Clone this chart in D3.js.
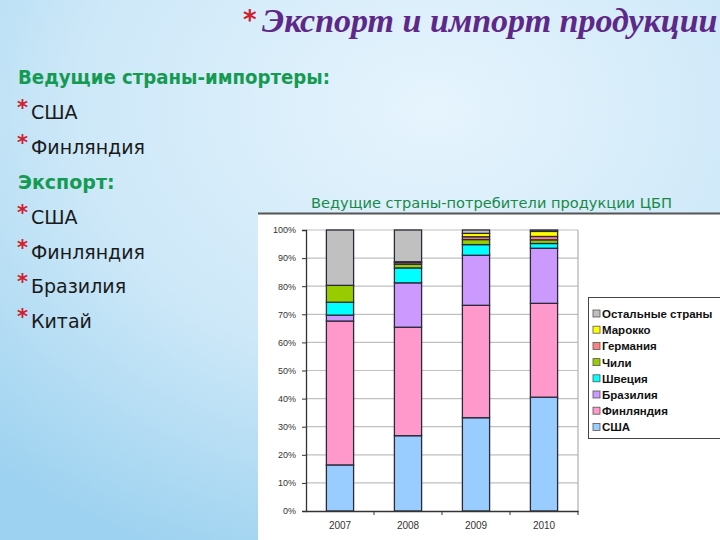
<!DOCTYPE html>
<html>
<head>
<meta charset="utf-8">
<script src="https://cdn.jsdelivr.net/npm/d3@7"></script>
<style>
  html, body { margin: 0; padding: 0; }
  body { width: 720px; height: 540px; overflow: hidden; }
</style>
</head>
<body>
<div id="slide"></div>
<script>
// categories and series (percent share of each year)
let years = ["2007", "2008", "2009", "2010"];
let countries = ["США", "Финляндия", "Бразилия", "Швеция", "Чили", "Германия", "Марокко", "Остальные страны"];
let usa     = [16.4, 26.8, 33.2, 40.5];
let finland = [51.2, 38.6, 40.0, 33.4];
let brazil  = [2.1, 15.8, 17.8, 19.6];
let sweden  = [4.6, 5.3, 3.8, 1.7];
let chile   = [6.0, 1.3, 1.8, 1.3];
let germany = [0, 0.6, 1.0, 1.2];
let morocco = [0, 0.3, 1.2, 1.8];
let others  = [19.7, 11.3, 1.2, 0.5];
let yTicks = [0, 10, 20, 30, 40, 50, 60, 70, 80, 90, 100];

let leftHeading1 = "Ведущие страны-импортеры:";
let importers = ["США", "Финляндия"];
let leftHeading2 = "Экспорт:";
let exporters = ["США", "Финляндия", "Бразилия", "Китай"];

let colors = ["#99ccff", "#ff99cc", "#cc99ff", "#00ffff", "#99cc00", "#ff8080", "#ffff00", "#c0c0c0"];

let series = [usa, finland, brazil, sweden, chile, germany, morocco, others];
let rows = years.map((y, i) => {
  let r = { year: y };
  countries.forEach((c, j) => { r[c] = series[j][i]; });
  return r;
});

let svg = d3.select("#slide").append("svg")
  .attr("width", 720).attr("height", 540);

// slide background
let defs = svg.append("defs");
let grad = defs.append("radialGradient").attr("id", "bg")
  .attr("cx", "0.6").attr("cy", "0.2").attr("r", "0.9");
grad.append("stop").attr("offset", "0%").attr("stop-color", "#e6f4fd");
grad.append("stop").attr("offset", "55%").attr("stop-color", "#cde8f8");
grad.append("stop").attr("offset", "100%").attr("stop-color", "#9dd2f0");
svg.append("rect").attr("width", 720).attr("height", 540).attr("fill", "url(#bg)");

// slide title
svg.append("text").attr("x", 243).attr("y", 29)
  .attr("fill", "#d0202e").style("font", "bold 26px 'DejaVu Sans'").text("*");
svg.append("text").attr("x", 262).attr("y", 32)
  .attr("fill", "#5e2888")
  .style("font", "italic bold 34px 'Liberation Serif'")
  .text("Экспорт и импорт продукции");

// left text block
let lines = [{ t: leftHeading1, head: true }]
  .concat(importers.map(t => ({ t, head: false })))
  .concat([{ t: leftHeading2, head: true }])
  .concat(exporters.map(t => ({ t, head: false })));

let left = svg.append("g");
lines.forEach((d, i) => {
  let y = 84 + i * 34.9;
  if (d.head) {
    let t = left.append("text").attr("x", 18).attr("y", y)
      .attr("fill", "#159a52").style("font", "bold 19px 'DejaVu Sans'")
      .text(d.t);
    if (i === 0) t.attr("textLength", 312).attr("lengthAdjust", "spacingAndGlyphs");
  } else {
    left.append("text").attr("x", 17).attr("y", y - 4)
      .attr("fill", "#d0202e").style("font", "bold 21px 'DejaVu Sans'").text("*");
    left.append("text").attr("x", 31).attr("y", y)
      .attr("fill", "#1a1a1a").style("font", "19px 'DejaVu Sans'")
      .text(d.t);
  }
});

// chart title
svg.append("text").attr("x", 311).attr("y", 208)
  .attr("fill", "#178a48").style("font", "500 14px 'DejaVu Sans'")
  .attr("textLength", 361).attr("lengthAdjust", "spacingAndGlyphs")
  .text("Ведущие страны-потребители продукции ЦБП");

// chart area
svg.append("rect").attr("x", 258).attr("y", 213).attr("width", 462).attr("height", 327)
  .attr("fill", "#ffffff");
svg.append("line").attr("x1", 258).attr("x2", 720).attr("y1", 213.5).attr("y2", 213.5)
  .attr("stroke", "#555").attr("stroke-width", 2);

let plot = { left: 306, right: 578, top: 230, bottom: 511 };

let x = d3.scaleBand().domain(years).range([plot.left, plot.right]).paddingInner(0.6).paddingOuter(0.3);
let xOuter = d3.scaleBand().domain(years).range([plot.left, plot.right]);
let y = d3.scaleLinear().domain([0, 100]).range([plot.bottom, plot.top]);

let g = svg.append("g");

// gridlines
g.selectAll("line.grid").data(yTicks.slice(1)).enter().append("line")
  .attr("class", "grid")
  .attr("x1", plot.left).attr("x2", plot.right)
  .attr("y1", d => y(d)).attr("y2", d => y(d))
  .attr("stroke", "#c0c0c0").attr("stroke-width", 1.2);
g.append("line").attr("x1", plot.right).attr("x2", plot.right)
  .attr("y1", plot.top).attr("y2", plot.bottom)
  .attr("stroke", "#b0b0b0").attr("stroke-width", 1.2);

// stacked bars
let stack = d3.stack().keys(countries);
let layers = stack(rows);

g.selectAll("g.layer").data(layers).enter().append("g")
  .attr("class", "layer")
  .attr("fill", (d, i) => colors[i])
  .selectAll("rect").data(d => d).enter().append("rect")
  .attr("x", d => x(d.data.year))
  .attr("width", x.bandwidth())
  .attr("y", d => y(d[1]))
  .attr("height", d => y(d[0]) - y(d[1]))
  .attr("stroke", "#2a2a3a").attr("stroke-width", 1.3);

// y axis
let yAxis = d3.axisLeft(y).tickValues(yTicks).tickFormat(d => d + "%").tickSize(4).tickPadding(6);
let ya = svg.append("g").attr("transform", `translate(${plot.left},0)`).call(yAxis);
ya.select(".domain").attr("stroke", "#333").attr("stroke-width", 1.3);
ya.selectAll(".tick line").attr("stroke", "#333");
ya.selectAll("text").attr("fill", "#333").style("font", "9px 'Liberation Sans'");

// x axis
let xAxis = d3.axisBottom(xOuter).tickSize(0).tickPadding(11);
let xa = svg.append("g").attr("transform", `translate(0,${plot.bottom})`).call(xAxis);
xa.select(".domain").attr("stroke", "#333").attr("stroke-width", 1.3);
xa.selectAll("text").attr("fill", "#333").style("font", "10px 'Liberation Sans'");
xa.selectAll("line.sep").data(years).enter().append("line")
  .attr("class", "sep")
  .attr("x1", d => xOuter(d) + xOuter.bandwidth()).attr("x2", d => xOuter(d) + xOuter.bandwidth())
  .attr("y1", 0).attr("y2", 4).attr("stroke", "#333");

// legend
let legend = svg.append("g").attr("transform", "translate(588,297)");
legend.append("rect").attr("x", 0.5).attr("y", 0.5).attr("width", 140).attr("height", 141)
  .attr("fill", "#fff").attr("stroke", "#444");
let items = countries.slice().reverse();
let itemColors = colors.slice().reverse();
items.forEach((c, i) => {
  let ly = 17 + i * 16.2;
  legend.append("rect").attr("x", 5).attr("y", ly - 4).attr("width", 7).attr("height", 7)
    .attr("fill", itemColors[i]).attr("stroke", "#555").attr("stroke-width", 0.8);
  legend.append("text").attr("x", 14).attr("y", ly + 4)
    .attr("fill", "#111").style("font", "bold 11.5px 'Liberation Sans'")
    .text(c);
});
</script>
</body>
</html>
